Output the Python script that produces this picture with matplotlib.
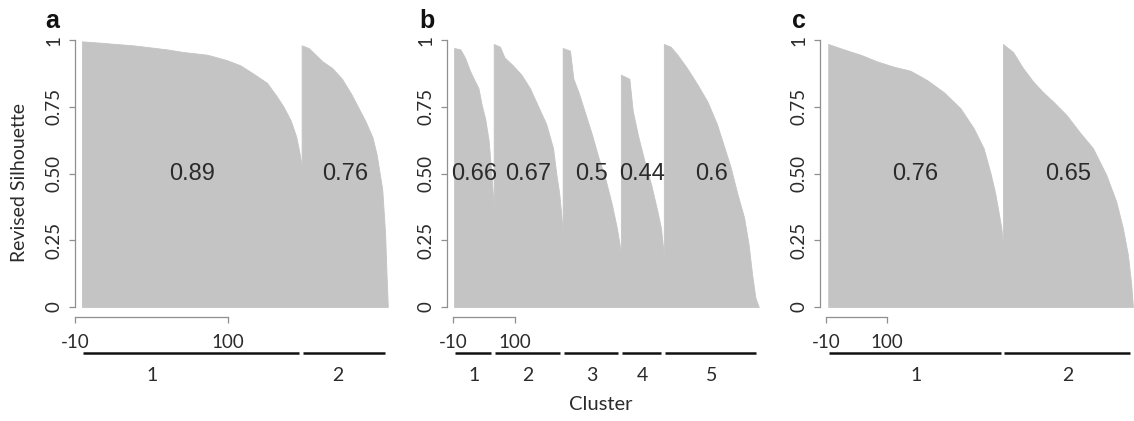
import matplotlib
matplotlib.use("Agg")
import matplotlib.pyplot as plt
import matplotlib.transforms as mtransforms
import numpy as np

# silhouette profiles: rank inside cluster -> value
a1_rank = [0, 13, 37, 61, 73, 90, 104, 114, 123, 133, 140, 145, 150, 154, 156, 158]
a1_sil = [0.995, 0.99, 0.98, 0.965, 0.955, 0.945, 0.925, 0.905, 0.875, 0.84, 0.79, 0.75, 0.70, 0.64, 0.59, 0.53]
a2_rank = [0, 5, 10, 15, 22, 29, 36, 41, 46, 51, 54, 58, 60, 61, 62]
a2_sil = [0.98, 0.97, 0.945, 0.92, 0.895, 0.855, 0.795, 0.745, 0.695, 0.635, 0.57, 0.44, 0.28, 0.13, 0.0]

b1_rank = [0, 11, 19, 28, 37, 43, 49, 55, 61, 65, 68, 70]
b1_sil = [0.97, 0.965, 0.935, 0.885, 0.845, 0.82, 0.755, 0.705, 0.625, 0.525, 0.435, 0.385]
b2_rank = [0, 11, 19, 34, 49, 64, 78, 93, 105, 111, 116, 120, 122]
b2_sil = [0.985, 0.975, 0.935, 0.905, 0.87, 0.82, 0.755, 0.685, 0.595, 0.495, 0.425, 0.335, 0.285]
b3_rank = [0, 13, 19, 28, 40, 52, 64, 75, 87, 96, 103]
b3_sil = [0.97, 0.96, 0.855, 0.805, 0.725, 0.645, 0.555, 0.485, 0.385, 0.295, 0.205]
b4_rank = [0, 15, 21, 30, 42, 54, 65, 71, 76]
b4_sil = [0.87, 0.855, 0.735, 0.645, 0.545, 0.455, 0.355, 0.295, 0.195]
b5_rank = [0, 12, 24, 41, 59, 77, 94, 106, 118, 130, 142, 150, 156, 162, 168]
b5_sil = [0.985, 0.975, 0.945, 0.895, 0.835, 0.77, 0.685, 0.605, 0.525, 0.425, 0.335, 0.235, 0.125, 0.035, 0.0]

c1_rank = [0, 28, 58, 88, 118, 148, 178, 208, 238, 262, 280, 292, 301, 307, 312, 315]
c1_sil = [0.985, 0.965, 0.945, 0.92, 0.9, 0.885, 0.85, 0.805, 0.745, 0.67, 0.595, 0.505, 0.425, 0.355, 0.295, 0.225]
c2_rank = [0, 18, 36, 54, 72, 90, 114, 138, 162, 186, 204, 216, 225, 231, 234]
c2_sil = [0.985, 0.955, 0.895, 0.845, 0.805, 0.77, 0.72, 0.655, 0.595, 0.495, 0.395, 0.295, 0.195, 0.085, 0.0]

a_avg = ["0.89", "0.76"]
b_avg = ["0.66", "0.67", "0.5", "0.44", "0.6"]
c_avg = ["0.76", "0.65"]

ytick_vals = [0, 0.25, 0.5, 0.75, 1]
ytick_labels = ["0", "0.25", "0.50", "0.75", "1"]
xtick_vals = [-10, 100]

W, H = 1134, 421
GRAY = "#c4c4c4"
AXGRAY = "#8f8f8f"
TXT = "#2b2b2b"
LABELFONT = ["Lato", "DejaVu Sans"]
NUMFONT = ["Liberation Sans", "DejaVu Sans"]

fig = plt.figure(figsize=(W / 100, H / 100), dpi=100)


def make_axes(left, right, xlim):
    ax = fig.add_axes([left / W, (H - 307) / H, (right - left) / W, 267 / H])
    ax.set_xlim(*xlim)
    ax.set_ylim(0, 1)
    ax.patch.set_alpha(0)
    for s in ["top", "right"]:
        ax.spines[s].set_visible(False)
    ax.spines["left"].set_bounds(0, 1)
    ax.spines["bottom"].set_bounds(-10, 100)
    ax.spines["bottom"].set_position(("outward", 7.2))
    for s in ["left", "bottom"]:
        ax.spines[s].set_color(AXGRAY)
        ax.spines[s].set_linewidth(0.9)
    ax.set_yticks(ytick_vals)
    ax.set_yticklabels(ytick_labels, rotation=90, va="center",
                       family=LABELFONT, fontsize=13.5, color=TXT)
    ax.set_xticks(xtick_vals)
    ax.set_xticklabels([str(v) for v in xtick_vals],
                       family=LABELFONT, fontsize=13.5, color=TXT)
    ax.tick_params(axis="y", length=4.3, color=AXGRAY, width=0.9, pad=5)
    ax.tick_params(axis="x", length=4, color=AXGRAY, width=0.9, pad=8)
    return ax


def draw_panel(ax, start, ranks, sils, avgs, label_frac):
    trans = mtransforms.blended_transform_factory(ax.transData, ax.transAxes)
    x0 = start
    span = ax.get_xlim()[1] - ax.get_xlim()[0]
    gap = 0.008 * span
    for k, (r, s) in enumerate(zip(ranks, sils)):
        x = x0 + np.array(r)
        y = np.array(s)
        ax.fill_between(x, 0, y, facecolor=GRAY, edgecolor=GRAY,
                        linewidth=0.6, joinstyle="round", clip_on=False)
        x1 = x0 + r[-1]
        ax.text((x0 + x1) / 2, 0.5, avgs[k], ha="center", va="center",
                family=NUMFONT, fontsize=17, color=TXT)
        ax.plot([x0 + gap * 0.5, x1 - gap], [-0.172, -0.172], color="#111111",
                linewidth=1.8, transform=trans, clip_on=False,
                solid_capstyle="butt")
        ax.text(x0 + label_frac[k] * (x1 - x0), -0.258, str(k + 1),
                ha="center", va="center", transform=trans,
                family=LABELFONT, fontsize=14, color=TXT)
        x0 = x1


ax_a = make_axes(75, 392, (-10, 218))
draw_panel(ax_a, -5, [a1_rank, a2_rank], [a1_sil, a2_sil], a_avg, [0.32, 0.42])

ax_b = make_axes(447, 765, (-20.6, 542))
draw_panel(ax_b, -8, [b1_rank, b2_rank, b3_rank, b4_rank, b5_rank],
           [b1_sil, b2_sil, b3_sil, b4_sil, b5_sil], b_avg, [0.5] * 5)

ax_c = make_axes(820, 1134, (-20.8, 545))
draw_panel(ax_c, -6, [c1_rank, c2_rank], [c1_sil, c2_sil], c_avg, [0.5, 0.5])

# panel letters and shared labels
for letter, px in [("a", 45), ("b", 419), ("c", 792)]:
    fig.text(px / W, 1 - 28 / H, letter, ha="left", va="baseline",
             family=NUMFONT, fontsize=18, fontweight="bold", color="#111111")

fig.text(20 / W, 1 - 182 / H, "Revised Silhouette", rotation=90,
         ha="center", va="center", family=LABELFONT, fontsize=14, color=TXT)
fig.text(601 / W, 1 - 404 / H, "Cluster", ha="center", va="center",
         family=LABELFONT, fontsize=14.5, color=TXT)

fig.savefig("out.png", dpi=100, facecolor="white")
